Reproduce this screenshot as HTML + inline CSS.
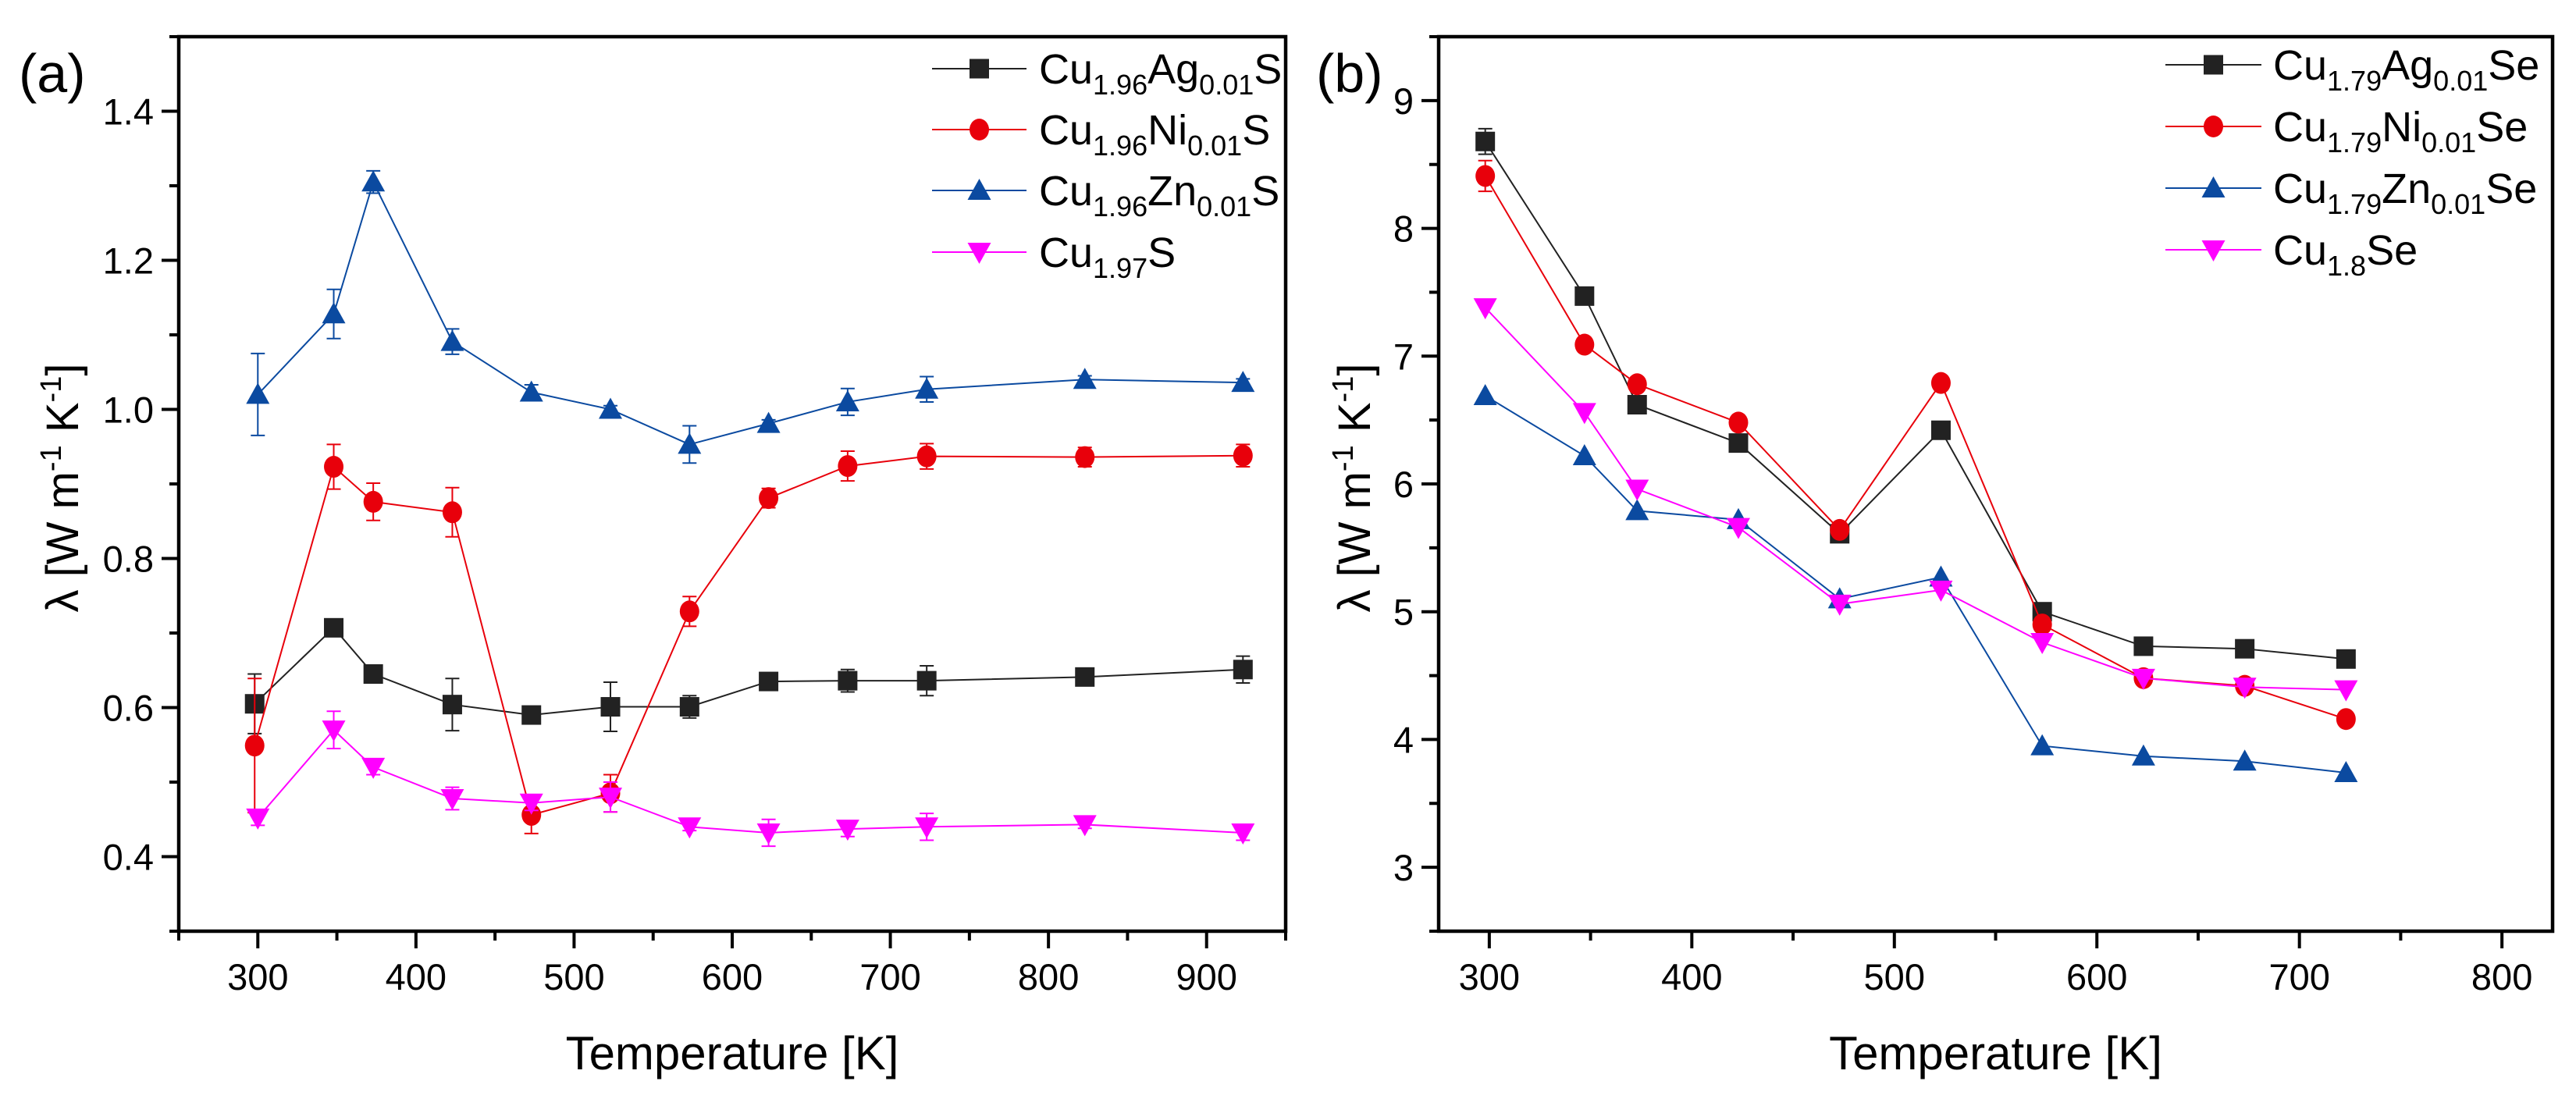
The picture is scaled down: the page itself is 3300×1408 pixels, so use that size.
<!DOCTYPE html>
<html><head><meta charset="utf-8">
<style>
html,body{margin:0;padding:0;background:#fff;}
svg{display:block;font-family:"Liberation Sans",sans-serif;}
</style></head>
<body>
<svg id="fig" width="3300" height="1408" viewBox="0 0 3300 1408" xmlns="http://www.w3.org/2000/svg"></svg>
<script>
// ---- Panel (a) data ----
const tempsA = [298, 348, 373, 423, 473, 523, 573, 623, 673, 723, 823, 923];
const agA  = [0.605, 0.707, 0.645, 0.604, 0.590, 0.601, 0.601, 0.635, 0.636, 0.636, 0.641, 0.651];
const agAErr = [0.04, 0.01, 0.01, 0.035, 0.005, 0.033, 0.015, 0.005, 0.015, 0.02, 0.005, 0.018];
const niA  = [0.549, 0.923, 0.876, 0.862, 0.456, 0.485, 0.729, 0.881, 0.924, 0.937, 0.936, 0.938];
const niAErr = [0.09, 0.03, 0.025, 0.033, 0.025, 0.025, 0.02, 0.013, 0.02, 0.017, 0.013, 0.015];
const tempsA2 = [300, 348, 373, 423, 473, 523, 573, 623, 673, 723, 823, 923];
const znA  = [1.020, 1.128, 1.305, 1.091, 1.023, 1.000, 0.953, 0.981, 1.010, 1.027, 1.040, 1.036];
const znAErr = [0.055, 0.033, 0.015, 0.017, 0.01, 0.005, 0.025, 0.005, 0.018, 0.017, 0.005, 0.005];
const cuA  = [0.452, 0.570, 0.520, 0.478, 0.472, 0.480, 0.440, 0.432, 0.437, 0.440, 0.443, 0.432];
const cuAErr = [0.01, 0.025, 0.01, 0.015, 0.01, 0.02, 0.005, 0.018, 0.01, 0.018, 0.005, 0.01];
const xTicksA = [300, 400, 500, 600, 700, 800, 900];
const yTicksA = [0.4, 0.6, 0.8, 1.0, 1.2, 1.4];
const yTickLabelsA = ["0.4", "0.6", "0.8", "1.0", "1.2", "1.4"];

// ---- Panel (b) data ----
const tempsB = [298, 347, 373, 423, 473, 523, 573, 623, 673, 723];
const agB = [8.68, 7.47, 6.62, 6.32, 5.61, 6.42, 5.00, 4.73, 4.71, 4.63];
const agBErr = [0.1, 0.03, 0.03, 0.03, 0.03, 0.03, 0.03, 0.03, 0.03, 0.03];
const niB = [8.41, 7.09, 6.78, 6.48, 5.64, 6.79, 4.90, 4.48, 4.42, 4.16];
const niBErr = [0.12, 0.03, 0.03, 0.03, 0.03, 0.03, 0.03, 0.03, 0.03, 0.03];
const znB = [6.69, 6.22, 5.79, 5.72, 5.10, 5.27, 3.95, 3.87, 3.83, 3.74];
const cuB = [7.38, 6.56, 5.96, 5.66, 5.06, 5.17, 4.76, 4.48, 4.41, 4.39];
const xTicksB = [300, 400, 500, 600, 700, 800];
const yTicksB = [3, 4, 5, 6, 7, 8, 9];
const yTickLabelsB = ["3", "4", "5", "6", "7", "8", "9"];

const NS = "http://www.w3.org/2000/svg";
const svg = document.getElementById("fig");
function mk(tag, attrs, parent) {
  const e = document.createElementNS(NS, tag);
  for (const k in attrs) e.setAttribute(k, attrs[k]);
  (parent || svg).appendChild(e);
  return e;
}

function marker(g, shape, cx, cy, color) {
  const s = 12.5;
  let m;
  if (shape === "square") m = mk("rect", {x: cx - s, y: cy - s, width: 2 * s, height: 2 * s, fill: color}, g);
  else if (shape === "circle") m = mk("ellipse", {cx: cx, cy: cy, rx: 12.5, ry: 14, fill: color}, g);
  else if (shape === "up") m = mk("polygon", {points: `${cx},${cy - 15} ${cx - 15},${cy + 12} ${cx + 15},${cy + 12}`, fill: color}, g);
  else m = mk("polygon", {points: `${cx},${cy + 15} ${cx - 15},${cy - 12} ${cx + 15},${cy - 12}`, fill: color}, g);
  return m;
}

function panel(cfg) {
  const {L, R, T, B, xmin, xmax, ymin, ymax} = cfg;
  const sx = v => L + (v - xmin) / (xmax - xmin) * (R - L);
  const sy = v => B - (v - ymin) / (ymax - ymin) * (B - T);
  const g = mk("g", {});
  
  

  // series
  cfg.series.forEach(s => {
    const sg = mk("g", {}, g);
    
    
    const pts = s.x.map((t, i) => sx(t) + "," + sy(s.y[i])).join(" ");
    const line = mk("polyline", {points: pts, fill: "none", stroke: s.color, "stroke-width": 2}, sg);
    
    
    if (s.err) s.x.forEach((t, i) => {
      const cx = sx(t), y1 = sy(s.y[i] + s.err[i]), y2 = sy(s.y[i] - s.err[i]);
      const eb = mk("path", {d: `M${cx},${y1}V${y2}M${cx - 9},${y1}H${cx + 9}M${cx - 9},${y2}H${cx + 9}`, stroke: s.color, "stroke-width": 2, fill: "none"}, sg);
      
      
    });
    s.x.forEach((t, i) => {
      const m = marker(sg, s.shape, sx(t), sy(s.y[i]), s.color);
      
      
    });
  });

  // frame
  const fr = mk("rect", {x: L, y: T, width: R - L, height: B - T, fill: "none", stroke: "#000", "stroke-width": 4.5}, g);
  
  

  // x ticks
  for (let v = Math.ceil(xmin / 50) * 50; v <= xmax; v += 50) {
    const major = v % 100 === 0;
    const t = mk("line", {x1: sx(v), x2: sx(v), y1: B, y2: B + (major ? 22 : 12), stroke: "#000", "stroke-width": 4}, g);
    
    
  }
  cfg.xTicks.forEach(v => {
    const t = mk("text", {x: sx(v), y: 1268, "font-size": 47, "text-anchor": "middle", fill: "#000"}, g);
    t.textContent = v;
    
    
  });
  // y ticks
  const step = cfg.yMinor;
  for (let k = Math.ceil(ymin / step - 1e-9); k * step <= ymax + 1e-9; k++) {
    const v = k * step;
    const major = cfg.yTicks.some(tv => Math.abs(tv - v) < 1e-6);
    const t = mk("line", {x1: L, x2: L - (major ? 22 : 12), y1: sy(v), y2: sy(v), stroke: "#000", "stroke-width": 4}, g);
    
    
  }
  cfg.yTicks.forEach((v, i) => {
    const t = mk("text", {x: L - 32, y: sy(v) + 17, "font-size": 47, "text-anchor": "end", fill: "#000"}, g);
    t.textContent = cfg.yTickLabels[i];
    
    
  });

  // axis titles
  const xt = mk("text", {x: (L + R) / 2, y: 1370, "font-size": 60, "text-anchor": "middle", fill: "#000"}, g);
  xt.textContent = "Temperature [K]";
  
  
  const yt = mk("text", {transform: `translate(${cfg.yTitleX},${(T + B) / 2 + 5}) rotate(-90)`, "font-size": 58, "text-anchor": "middle", fill: "#000"}, g);
  yt.innerHTML = 'λ [W m<tspan dy="-22" font-size="38">-1</tspan><tspan dy="22"> K</tspan><tspan dy="-22" font-size="38">-1</tspan><tspan dy="22">]</tspan>';
  
  

  // panel label
  const pl = mk("text", {x: cfg.labelX, y: 118, "font-size": 70, fill: "#000"}, g);
  pl.textContent = cfg.label;
  
  

  // legend
  const lg = mk("g", {}, g);
  
  
  cfg.series.forEach((s, i) => {
    const y = cfg.legY[i];
    const eg = mk("g", {}, lg);
    
    
    mk("line", {x1: cfg.legX1, x2: cfg.legX2, y1: y, y2: y, stroke: s.color, "stroke-width": 2}, eg);
    marker(eg, s.shape, (cfg.legX1 + cfg.legX2) / 2, y, s.color);
    const tx = mk("text", {x: cfg.legText, y: y + 19, "font-size": 54, fill: "#000"}, eg);
    tx.innerHTML = s.label;
  });
}

const sub = (t) => `<tspan dy="14" font-size="36">${t}</tspan><tspan dy="-14">`;
panel({
  name: "panel-a", L: 229, R: 1647, T: 47, B: 1193, xmin: 250, xmax: 950, ymin: 0.3, ymax: 1.5,
  xTicks: xTicksA, yTicks: yTicksA, yTickLabels: yTickLabelsA, yMinor: 0.1,
  yTitleX: 100, labelX: 24, label: "(a)",
  legX1: 1194, legX2: 1315, legText: 1331, legY: [88, 166, 244, 323],
  series: [
    {id: "cu196ag001s", x: tempsA, y: agA, err: agAErr, color: "#222", shape: "square", label: "Cu" + sub("1.96") + "Ag" + sub("0.01") + "S</tspan></tspan>"},
    {id: "cu196ni001s", x: tempsA, y: niA, err: niAErr, color: "#e8000b", shape: "circle", label: "Cu" + sub("1.96") + "Ni" + sub("0.01") + "S</tspan></tspan>"},
    {id: "cu196zn001s", x: tempsA2, y: znA, err: znAErr, color: "#0b4aa0", shape: "up", label: "Cu" + sub("1.96") + "Zn" + sub("0.01") + "S</tspan></tspan>"},
    {id: "cu197s", x: tempsA2, y: cuA, err: cuAErr, color: "#ff00ff", shape: "down", label: "Cu" + sub("1.97") + "S</tspan>"}
  ]
});
panel({
  name: "panel-b", L: 1843, R: 3270, T: 47, B: 1193, xmin: 275, xmax: 825, ymin: 2.5, ymax: 9.5,
  xTicks: xTicksB, yTicks: yTicksB, yTickLabels: yTickLabelsB, yMinor: 0.5,
  yTitleX: 1755, labelX: 1686, label: "(b)",
  legX1: 2774, legX2: 2897, legText: 2912, legY: [83, 162, 241, 320],
  series: [
    {id: "cu179ag001se", x: tempsB, y: agB, err: agBErr, color: "#222", shape: "square", label: "Cu" + sub("1.79") + "Ag" + sub("0.01") + "Se</tspan></tspan>"},
    {id: "cu179ni001se", x: tempsB, y: niB, err: niBErr, color: "#e8000b", shape: "circle", label: "Cu" + sub("1.79") + "Ni" + sub("0.01") + "Se</tspan></tspan>"},
    {id: "cu179zn001se", x: tempsB, y: znB, err: null, color: "#0b4aa0", shape: "up", label: "Cu" + sub("1.79") + "Zn" + sub("0.01") + "Se</tspan></tspan>"},
    {id: "cu18se", x: tempsB, y: cuB, err: null, color: "#ff00ff", shape: "down", label: "Cu" + sub("1.8") + "Se</tspan>"}
  ]
});
</script>
</body></html>
